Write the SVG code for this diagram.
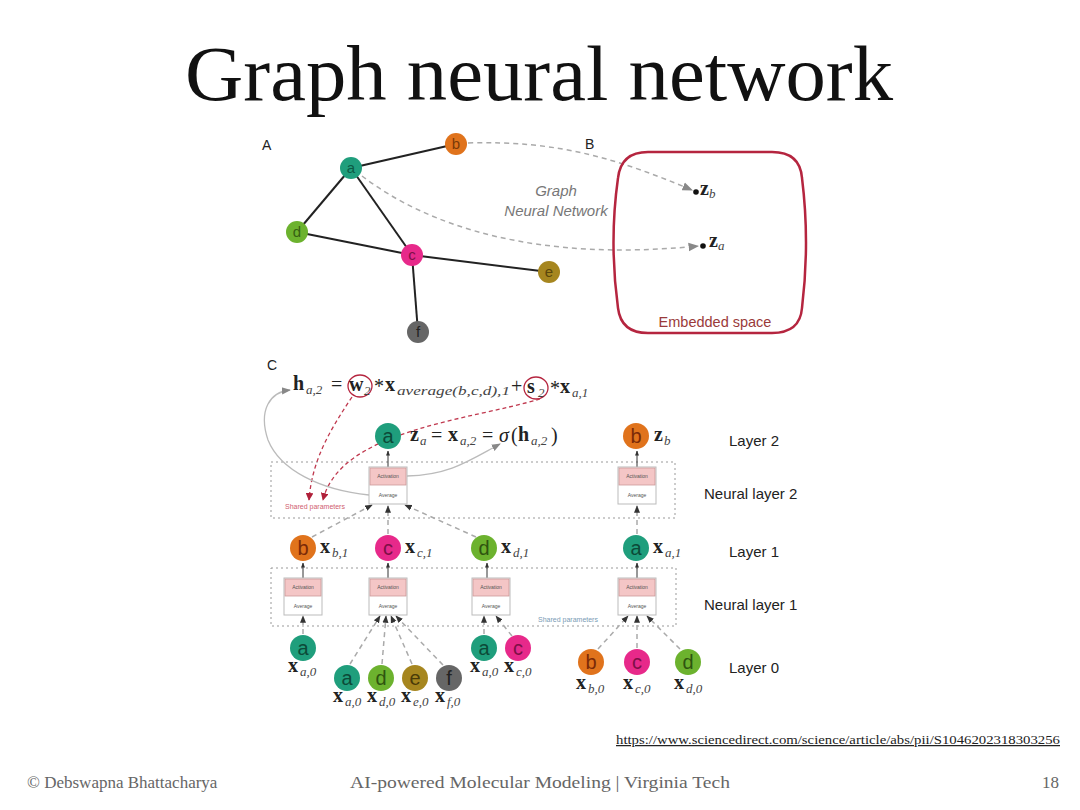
<svg xmlns="http://www.w3.org/2000/svg" width="1080" height="810" viewBox="0 0 1080 810">
<defs>
<style>
.sans{font-family:"Liberation Sans",Arial,sans-serif}
.ser{font-family:"Liberation Serif","Times New Roman",serif}
.edge{stroke:#222;stroke-width:2;fill:none}
.gdash{stroke:#aaa;stroke-width:1.5;fill:none;stroke-dasharray:5 4}
.rdash{stroke:#c0394f;stroke-width:1.3;fill:none;stroke-dasharray:4 3}
.gsolid{stroke:#bbb;stroke-width:1.3;fill:none}
.dot{stroke:#999;stroke-width:1;fill:none;stroke-dasharray:2 3}
.nl{font-family:"Liberation Sans",Arial,sans-serif;font-size:15px;text-anchor:middle}
.nl2{font-family:"Liberation Sans",Arial,sans-serif;font-size:20px;text-anchor:middle}
.lbl{font-family:"Liberation Sans",Arial,sans-serif;font-size:15px;fill:#222}
.m{font-family:"Liberation Serif","Times New Roman",serif;font-weight:bold;font-size:20px;fill:#222}
.mo{font-family:"Liberation Serif","Times New Roman",serif;font-size:20px;fill:#222}
.ms{font-family:"Liberation Serif","Times New Roman",serif;font-style:italic;font-weight:normal;font-size:13px;fill:#444}
.box{fill:#fff;stroke:#bbb;stroke-width:1}
.act{fill:#f4c6c6;stroke:#c99;stroke-width:0.8}
.tiny{font-family:"Liberation Sans",Arial,sans-serif;font-size:5px;text-anchor:middle;fill:#555}
</style>
<marker id="ag" viewBox="0 0 10 10" refX="9" refY="5" markerWidth="7" markerHeight="7" orient="auto-start-reverse"><path d="M0,1 L10,5 L0,9 Z" fill="#888"/></marker>
<marker id="ak" viewBox="0 0 10 10" refX="9" refY="5" markerWidth="5" markerHeight="5" orient="auto"><path d="M0,1 L10,5 L0,9 Z" fill="#333"/></marker>
<marker id="ar" viewBox="0 0 10 10" refX="9" refY="5" markerWidth="6" markerHeight="6" orient="auto"><path d="M0,0 L10,5 L0,10 Z" fill="#b0203a"/></marker>
</defs>
<rect width="1080" height="810" fill="#fff"/>

<text x="539" y="100" class="ser" font-size="78" text-anchor="middle" textLength="708" lengthAdjust="spacingAndGlyphs" fill="#111">Graph neural network</text>

<!-- Panel A -->
<text x="262" y="150" class="sans" font-size="14" fill="#222">A</text>
<text x="585" y="149" class="sans" font-size="14" fill="#222">B</text>
<g id="connectors">
<line class="edge" x1="351" y1="168" x2="456" y2="144"/>
<line class="edge" x1="351" y1="168" x2="297" y2="232"/>
<line class="edge" x1="351" y1="168" x2="412" y2="255"/>
<line class="edge" x1="297" y1="232" x2="412" y2="255"/>
<line class="edge" x1="412" y1="255" x2="549" y2="272"/>
<line class="edge" x1="412" y1="255" x2="418" y2="332"/>
<path class="gdash" d="M468,143 C560,140 620,160 692,190" marker-end="url(#ag)"/>
<path class="gdash" d="M362,176 C430,228 540,262 698,246" marker-end="url(#ag)"/>
</g>
<g id="nodeA"><circle cx="351" cy="168" r="11" fill="#1f9e7c"/><text x="351" y="173" class="nl" fill="#0c5a45">a</text></g>
<g id="nodeB"><circle cx="456" cy="144" r="11" fill="#e0731c"/><text x="456" y="149" class="nl" fill="#7a3a08">b</text></g>
<g id="nodeD"><circle cx="297" cy="232" r="11" fill="#6cb22e"/><text x="297" y="237" class="nl" fill="#365f12">d</text></g>
<g id="nodeC"><circle cx="412" cy="255" r="11" fill="#e7298a"/><text x="412" y="260" class="nl" fill="#7d0f47">c</text></g>
<g id="nodeE"><circle cx="549" cy="272" r="11" fill="#a6861f"/><text x="549" y="277" class="nl" fill="#5a470c">e</text></g>
<g id="nodeF"><circle cx="418" cy="332" r="11" fill="#666"/><text x="418" y="337" class="nl" fill="#222">f</text></g>
<text x="556" y="196" class="sans" font-size="15" font-style="italic" fill="#777" text-anchor="middle">Graph</text>
<text x="556" y="216" class="sans" font-size="15" font-style="italic" fill="#777" text-anchor="middle">Neural Network</text>
<g id="embedded">
<path d="M648,152 L772,152 Q800,152 802,178 Q810,242 802,308 Q800,333 772,333 L648,333 Q621,333 618,308 Q609,242 618,178 Q621,152 648,152 Z" fill="none" stroke="#b5253f" stroke-width="2.5"/>
<circle cx="696" cy="192" r="2.8" fill="#111"/>
<circle cx="703" cy="246" r="2.8" fill="#111"/>
<text x="700" y="195" class="m" font-size="15">z<tspan class="ms" font-size="10" dy="3">b</tspan></text>
<text x="709" y="247" class="m" font-size="15">z<tspan class="ms" font-size="10" dy="3">a</tspan></text>
<text x="715" y="327" class="sans" font-size="14.5" fill="#9a3a3a" text-anchor="middle">Embedded space</text>
</g>

<!-- Panel C -->
<text x="267" y="370" class="sans" font-size="14" fill="#222">C</text>
<g id="formula1">
<text x="293" y="390" class="m">h</text><text x="306" y="394" class="ms">a,2</text>
<text x="331" y="391" class="mo">=</text>
<ellipse cx="360" cy="386" rx="12" ry="11" fill="none" stroke="#b5253f" stroke-width="1.3"/>
<text x="349" y="391" class="m">w</text><text x="364" y="395" class="ms" font-style="normal">2</text>
<text x="374" y="393" class="mo" font-size="14">*</text>
<text x="385" y="391" class="m">x</text><text x="397" y="395" class="ms" textLength="113" lengthAdjust="spacingAndGlyphs">average(b,c,d),1</text>
<text x="511" y="393" class="mo">+</text>
<ellipse cx="536" cy="388" rx="12" ry="11" fill="none" stroke="#b5253f" stroke-width="1.3"/>
<text x="527" y="393" class="m">s</text><text x="538" y="397" class="ms" font-style="normal">2</text>
<text x="550" y="395" class="mo" font-size="14">*</text>
<text x="560" y="393" class="m">x</text><text x="572" y="397" class="ms">a,1</text>
</g>
<g id="formula2">
<text x="410" y="441" class="m">z</text><text x="420" y="445" class="ms">a</text>
<text x="431" y="442" class="mo">=</text>
<text x="448" y="441" class="m">x</text><text x="460" y="445" class="ms">a,2</text>
<text x="482" y="442" class="mo">=</text>
<text x="499" y="442" class="mo" font-style="italic">σ</text>
<text x="511" y="442" class="mo">(</text>
<text x="518" y="441" class="m">h</text><text x="531" y="445" class="ms">a,2</text>
<text x="551" y="442" class="mo">)</text>
</g>

<!-- dotted neural layer frames -->
<rect class="dot" x="271" y="462" width="404" height="56"/>
<rect class="dot" x="271" y="568" width="405" height="58"/>

<g id="connectorsC">
<line x1="388" y1="467" x2="388" y2="451" stroke="#333" stroke-width="1" marker-end="url(#ak)"/>
<line x1="637" y1="467" x2="637" y2="451" stroke="#333" stroke-width="1" marker-end="url(#ak)"/>
<path class="gdash" d="M312,537 L372,505" stroke-width="1" marker-end="url(#ak)"/>
<path class="gdash" d="M388,534 L388,506" stroke-width="1" marker-end="url(#ak)"/>
<path class="gdash" d="M476,537 L405,505" stroke-width="1" marker-end="url(#ak)"/>
<path class="gdash" d="M637,534 L637,506" stroke-width="1" marker-end="url(#ak)"/>
<line x1="303" y1="578" x2="303" y2="563" stroke="#333" stroke-width="1" marker-end="url(#ak)"/>
<line x1="388" y1="578" x2="388" y2="563" stroke="#333" stroke-width="1" marker-end="url(#ak)"/>
<line x1="487" y1="578" x2="487" y2="563" stroke="#333" stroke-width="1" marker-end="url(#ak)"/>
<line x1="637" y1="578" x2="637" y2="563" stroke="#333" stroke-width="1" marker-end="url(#ak)"/>
<path class="gdash" d="M303,634 L303,616" stroke-width="1" marker-end="url(#ak)"/>
<path class="gdash" d="M350,664 L380,616" stroke-width="1" marker-end="url(#ak)"/>
<path class="gdash" d="M382,664 L386,616" stroke-width="1" marker-end="url(#ak)"/>
<path class="gdash" d="M412,664 L391,616" stroke-width="1" marker-end="url(#ak)"/>
<path class="gdash" d="M443,665 L396,616" stroke-width="1" marker-end="url(#ak)"/>
<path class="gdash" d="M484,634 L484,616" stroke-width="1" marker-end="url(#ak)"/>
<path class="gdash" d="M512,636 L496,616" stroke-width="1" marker-end="url(#ak)"/>
<path class="gdash" d="M598,649 L628,616" stroke-width="1" marker-end="url(#ak)"/>
<path class="gdash" d="M637,648 L637,616" stroke-width="1" marker-end="url(#ak)"/>
<path class="gdash" d="M680,649 L647,616" stroke-width="1" marker-end="url(#ak)"/>
<path class="rdash" d="M352,397 C330,430 312,460 309,500" marker-end="url(#ar)"/>
<path class="rdash" d="M540,399 C470,420 340,430 323,500" marker-end="url(#ar)"/>
<path class="gsolid" d="M369,495 C320,490 280,470 268,440 C258,410 270,392 290,390" marker-end="url(#ag)"/>
<path class="gsolid" d="M407,476 C450,475 470,460 500,444" marker-end="url(#ag)"/>
</g>

<g id="unit2a"><rect class="box" x="369" y="467" width="38" height="37"/><rect class="act" x="370" y="468" width="36" height="17"/><text x="388" y="478" class="tiny">Activation</text><text x="388" y="497" class="tiny">Average</text></g>
<g id="unit2b"><rect class="box" x="618" y="467" width="38" height="37"/><rect class="act" x="619" y="468" width="36" height="17"/><text x="637" y="478" class="tiny">Activation</text><text x="637" y="497" class="tiny">Average</text></g>
<text x="315" y="509" class="sans" font-size="7" fill="#d06070" text-anchor="middle">Shared parameters</text>

<g id="unit1a"><rect class="box" x="284" y="578" width="38" height="37"/><rect class="act" x="285" y="579" width="36" height="17"/><text x="303" y="589" class="tiny">Activation</text><text x="303" y="608" class="tiny">Average</text></g>
<g id="unit1b"><rect class="box" x="369" y="578" width="38" height="37"/><rect class="act" x="370" y="579" width="36" height="17"/><text x="388" y="589" class="tiny">Activation</text><text x="388" y="608" class="tiny">Average</text></g>
<g id="unit1c"><rect class="box" x="472" y="578" width="38" height="37"/><rect class="act" x="473" y="579" width="36" height="17"/><text x="491" y="589" class="tiny">Activation</text><text x="491" y="608" class="tiny">Average</text></g>
<g id="unit1d"><rect class="box" x="618" y="578" width="38" height="37"/><rect class="act" x="619" y="579" width="36" height="17"/><text x="637" y="589" class="tiny">Activation</text><text x="637" y="608" class="tiny">Average</text></g>
<text x="568" y="622" class="sans" font-size="7" fill="#7a9bb5" text-anchor="middle">Shared parameters</text>

<g id="l2a"><circle cx="388" cy="436" r="13" fill="#1f9e7c"/><text x="388" y="443" class="nl2" fill="#0c4a38">a</text></g>
<g id="l2b"><circle cx="636" cy="436" r="13" fill="#e0731c"/><text x="636" y="443" class="nl2" fill="#7a2a08">b</text><text x="654" y="441" class="m">z</text><text x="664" y="445" class="ms">b</text></g>

<g id="l1b"><circle cx="303" cy="548" r="13" fill="#e0731c"/><text x="303" y="555" class="nl2" fill="#7a2a08">b</text><text x="320" y="553" class="m">x</text><text x="332" y="557" class="ms">b,1</text></g>
<g id="l1c"><circle cx="388" cy="548" r="13" fill="#e7298a"/><text x="388" y="555" class="nl2" fill="#7d0f47">c</text><text x="405" y="553" class="m">x</text><text x="417" y="557" class="ms">c,1</text></g>
<g id="l1d"><circle cx="484" cy="548" r="13" fill="#6cb22e"/><text x="484" y="555" class="nl2" fill="#2f5410">d</text><text x="501" y="553" class="m">x</text><text x="513" y="557" class="ms">d,1</text></g>
<g id="l1a"><circle cx="636" cy="548" r="13" fill="#1f9e7c"/><text x="636" y="555" class="nl2" fill="#0c4a38">a</text><text x="653" y="553" class="m">x</text><text x="665" y="557" class="ms">a,1</text></g>

<g id="l0a1"><circle cx="303" cy="648" r="13" fill="#1f9e7c"/><text x="303" y="655" class="nl2" fill="#0c4a38">a</text><text x="288" y="672" class="m">x</text><text x="300" y="676" class="ms">a,0</text></g>
<g id="l0a2"><circle cx="347" cy="678" r="13" fill="#1f9e7c"/><text x="347" y="685" class="nl2" fill="#0c4a38">a</text><text x="333" y="702" class="m">x</text><text x="345" y="706" class="ms">a,0</text></g>
<g id="l0d2"><circle cx="381" cy="678" r="13" fill="#6cb22e"/><text x="381" y="685" class="nl2" fill="#2f5410">d</text><text x="367" y="702" class="m">x</text><text x="379" y="706" class="ms">d,0</text></g>
<g id="l0e2"><circle cx="415" cy="678" r="13" fill="#a6861f"/><text x="415" y="685" class="nl2" fill="#4a3a08">e</text><text x="401" y="702" class="m">x</text><text x="413" y="706" class="ms">e,0</text></g>
<g id="l0f2"><circle cx="449" cy="678" r="13" fill="#666"/><text x="449" y="685" class="nl2" fill="#222">f</text><text x="435" y="702" class="m">x</text><text x="447" y="706" class="ms">f,0</text></g>
<g id="l0a3"><circle cx="484" cy="648" r="13" fill="#1f9e7c"/><text x="484" y="655" class="nl2" fill="#0c4a38">a</text><text x="470" y="672" class="m">x</text><text x="482" y="676" class="ms">a,0</text></g>
<g id="l0c3"><circle cx="518" cy="648" r="13" fill="#e7298a"/><text x="518" y="655" class="nl2" fill="#7d0f47">c</text><text x="504" y="672" class="m">x</text><text x="516" y="676" class="ms">c,0</text></g>
<g id="l0b4"><circle cx="591" cy="662" r="13" fill="#e0731c"/><text x="591" y="669" class="nl2" fill="#7a2a08">b</text><text x="576" y="689" class="m">x</text><text x="588" y="693" class="ms">b,0</text></g>
<g id="l0c4"><circle cx="637" cy="662" r="13" fill="#e7298a"/><text x="637" y="669" class="nl2" fill="#7d0f47">c</text><text x="623" y="689" class="m">x</text><text x="635" y="693" class="ms">c,0</text></g>
<g id="l0d4"><circle cx="688" cy="662" r="13" fill="#6cb22e"/><text x="688" y="669" class="nl2" fill="#2f5410">d</text><text x="674" y="689" class="m">x</text><text x="686" y="693" class="ms">d,0</text></g>

<text x="729" y="446" class="lbl">Layer 2</text>
<text x="704" y="499" class="lbl">Neural layer 2</text>
<text x="729" y="557" class="lbl">Layer 1</text>
<text x="704" y="610" class="lbl">Neural layer 1</text>
<text x="729" y="673" class="lbl">Layer 0</text>

<text x="1060" y="744" class="ser" font-size="12.5" fill="#222" text-anchor="end" text-decoration="underline" textLength="444" lengthAdjust="spacingAndGlyphs">https://www.sciencedirect.com/science/article/abs/pii/S1046202318303256</text>
<text x="27" y="788" class="ser" font-size="17" fill="#666">© Debswapna Bhattacharya</text>
<text x="350" y="788" class="ser" font-size="17" fill="#666" textLength="380" lengthAdjust="spacingAndGlyphs">AI-powered Molecular Modeling | Virginia Tech</text>
<text x="1059" y="788" class="ser" font-size="17" fill="#666" text-anchor="end">18</text>
</svg>
